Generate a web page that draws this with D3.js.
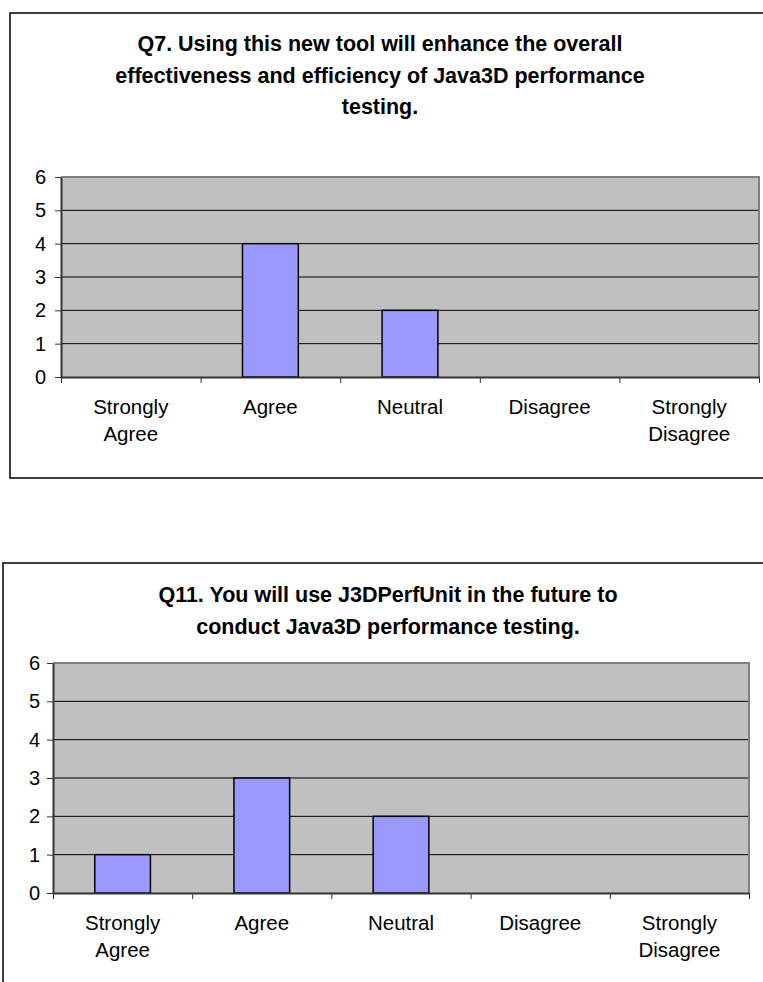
<!DOCTYPE html>
<html>
<head>
<meta charset="utf-8">
<script src="https://cdn.jsdelivr.net/npm/d3@7"></script>
<style>
  body { margin: 0; background: #fff; }
  svg { display: block; font-family: "Liberation Sans", Arial, sans-serif; }
  .title { font-weight: bold; font-size: 21.5px; fill: #000; }
  .tick text { font-size: 20px; fill: #000; }
  .cat-label { font-size: 20.5px; fill: #000; }
</style>
</head>
<body>
<div id="chart"></div>
<script>
const categories = ['Strongly Agree', 'Agree', 'Neutral', 'Disagree', 'Strongly Disagree'];
const q7Values = [0, 4, 2, 0, 0];
const q11Values = [1, 3, 2, 0, 0];
const yTicks = [0, 1, 2, 3, 4, 5, 6];
const q7Title = ['Q7. Using this new tool will enhance the overall',
                 'effectiveness and efficiency of Java3D performance',
                 'testing.'];
const q11Title = ['Q11. You will use J3DPerfUnit in the future to',
                  'conduct Java3D performance testing.'];

const width = 763;
const height = 982;

const svg = d3.select('#chart')
  .append('svg')
    .attr('viewBox', [0, 0, width, height])
    .attr('width', width)
    .attr('height', height);

function drawChart(opts) {
  const g = svg.append('g');

  // outer frame (right side runs off the picture)
  g.append('rect')
    .attr('x', opts.frame[0])
    .attr('y', opts.frame[1])
    .attr('width', opts.frame[2])
    .attr('height', opts.frame[3])
    .attr('fill', '#fff')
    .attr('stroke', '#000')
    .attr('stroke-width', 1.5);

  g.append('g')
    .selectAll('text')
    .data(opts.title)
    .join('text')
      .attr('class', 'title')
      .attr('x', opts.titleX)
      .attr('y', (d, i) => opts.titleY + i * 31.5)
      .attr('text-anchor', 'middle')
      .text(d => d);

  const p = opts.plot;
  const x = d3.scaleBand()
    .domain(categories)
    .range([p.left, p.right])
    .paddingInner(0.6)
    .paddingOuter(0.3);
  const xEdges = d3.scaleLinear()
    .domain([0, categories.length])
    .range([p.left, p.right]);
  const y = d3.scaleLinear()
    .domain([0, 6])
    .range([p.bottom, p.top]);

  // plot area
  g.append('rect')
    .attr('x', p.left)
    .attr('y', p.top)
    .attr('width', p.right - p.left)
    .attr('height', p.bottom - p.top)
    .attr('fill', '#c0c0c0');

  // gridlines
  g.append('g')
    .selectAll('line')
    .data(yTicks.filter(t => t > 0 && t < 6))
    .join('line')
      .attr('x1', p.left)
      .attr('x2', p.right)
      .attr('y1', d => y(d))
      .attr('y2', d => y(d))
      .attr('stroke', '#000')
      .attr('stroke-width', 1);

  // grey border on top and right of the plot area
  g.append('path')
    .attr('d', `M${p.left},${y(6)}H${p.right}V${y(0)}`)
    .attr('fill', 'none')
    .attr('stroke', '#808080')
    .attr('stroke-width', 2);

  // bars
  g.append('g')
    .selectAll('rect')
    .data(categories.map((c, i) => ({cat: c, value: opts.values[i]})).filter(d => d.value > 0))
    .join('rect')
      .attr('x', d => x(d.cat))
      .attr('y', d => y(d.value))
      .attr('width', x.bandwidth())
      .attr('height', d => y(0) - y(d.value))
      .attr('fill', '#9999ff')
      .attr('stroke', '#000')
      .attr('stroke-width', 1.5);

  // y axis
  const yAxis = g.append('g')
    .attr('transform', `translate(${p.left},0)`)
    .call(d3.axisLeft(y).tickValues(yTicks).tickFormat(d3.format('d')).tickSize(6).tickPadding(opts.yPad).tickSizeOuter(0));
  yAxis.attr('font-family', null).attr('font-size', null);
  yAxis.select('.domain').attr('stroke', '#333').attr('stroke-width', 2);
  yAxis.selectAll('.tick line').attr('stroke', '#333');

  // x axis with ticks between categories
  const xAxis = g.append('g')
    .attr('transform', `translate(0,${p.bottom})`)
    .call(d3.axisBottom(xEdges).tickValues(d3.range(categories.length + 1)).tickSize(6).tickFormat('').tickSizeOuter(0));
  xAxis.select('.domain').attr('stroke', '#333').attr('stroke-width', 2);
  xAxis.selectAll('.tick line').attr('stroke', '#333');

  // category labels, wrapped on spaces
  const labels = g.append('g')
    .selectAll('text')
    .data(categories)
    .join('text')
      .attr('class', 'cat-label')
      .attr('text-anchor', 'middle')
      .attr('x', d => x(d) + x.bandwidth() / 2)
      .attr('y', p.bottom + 37);
  labels.selectAll('tspan')
    .data(d => d.split(' '))
    .join('tspan')
      .attr('x', function () { return this.parentNode.getAttribute('x'); })
      .attr('dy', (d, i) => i === 0 ? 0 : 27)
      .text(d => d);
}

drawChart({
  frame: [10, 13, 780, 465],
  title: q7Title,
  titleX: 380,
  titleY: 51,
  values: q7Values,
  plot: {left: 61, right: 759, top: 177, bottom: 377},
  yPad: 9
});

drawChart({
  frame: [3, 563, 790, 440],
  title: q11Title,
  titleX: 388,
  titleY: 602,
  values: q11Values,
  plot: {left: 53, right: 749, top: 663, bottom: 893},
  yPad: 7
});
</script>
</body>
</html>
